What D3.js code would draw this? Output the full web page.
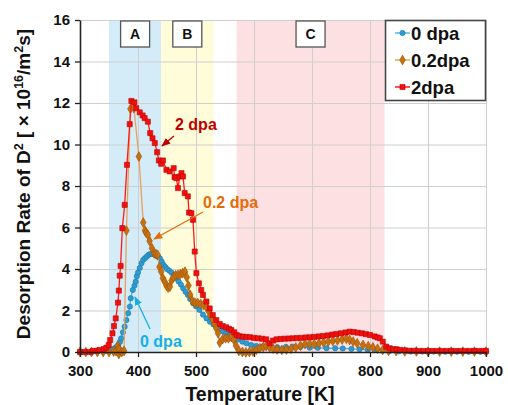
<!DOCTYPE html>
<html><head><meta charset="utf-8">
<script src="https://cdn.jsdelivr.net/npm/d3@7"></script>
<style>body{margin:0;background:#fff}svg{display:block;font-family:Arial,"Liberation Sans",sans-serif}</style>
</head><body><svg id="c" width="508" height="405"></svg>
<script>
// ---- data ----
const seriesNames = ["0 dpa", "0.2dpa", "2dpa"];
const xTicks = [300,400,500,600,700,800,900,1000];
const yTicks = [0,2,4,6,8,10,12,14,16];
const regions = [{label:"A", from:350, to:440}, {label:"B", from:440, to:530}, {label:"C", from:570, to:825}];

const t0 = [300,310,320,330,340,345,351,356,360,363,366,369,371,374,377,380,383,386,387.5,391,394,396,398,400,403,406,409,412,415,418,421,424,428,432,435,438,441,444,447,450,454,458,462,466,470,474,478,482,486,490,495,500,506,512,518,524,530,535,541,547,552,558,565,572,580,587,595,604,615,627,640,655,667,680,696,710,725,740,753,768,782,796,811,822,834,850,870,890,910,930,950,970,990,1000];
const v0 = [0,0,0,0.02,0.03,0.05,0.1,0.13,0.18,0.25,0.34,0.5,0.66,0.95,1.22,1.54,1.87,2.19,2.59,2.99,3.2,3.39,3.65,3.83,4.05,4.28,4.44,4.52,4.6,4.68,4.72,4.73,4.7,4.65,4.58,4.5,4.35,4.2,4.1,4.0,3.92,3.82,3.7,3.55,3.4,3.25,3.07,2.9,2.75,2.55,2.35,2.2,2.03,1.8,1.62,1.46,1.33,1.22,1.1,0.98,0.9,0.82,0.7,0.6,0.5,0.42,0.34,0.29,0.27,0.25,0.23,0.25,0.26,0.24,0.21,0.2,0.18,0.18,0.17,0.15,0.13,0.11,0.1,0.07,0.05,0.03,0.02,0.02,0.02,0.01,0.01,0.01,0.01,0.01];

const t02 = [300,310,320,330,340,350,358,362,365,366,367,368,372,376,380,387,393,401.5,409,412,414,417,420,424,428,431,434,437,440,443,446,449,452,455,458,461,465,469,473,477,481,484,487,490,494,498,503,508,513,518,522,525,529,532,535,538,541,546,551,556,561,565,569,574,580,586,592,598,604,610,616,621,627,633,640,648,656,664,672,680,688,696,704,712,720,728,736,744,752,759,765,771,778,788,797,805,813,822,832,845,860,880,900,920,940,960,980,1000];
const v02 = [0,0,0,0,0,0,0.02,0.05,0.3,0.15,-0.1,0.1,0,0.05,5.85,11.72,11.75,9.42,6.24,5.85,5.75,5.65,5.35,5.0,4.75,4.72,4.68,4.1,3.87,3.55,3.39,3.2,3.1,3.15,3.45,3.6,3.7,3.72,3.75,3.8,3.87,3.6,3.2,2.75,2.45,2.38,2.36,2.32,2.27,2.15,1.95,1.75,1.55,1.35,1.14,0.9,0.45,0.62,0.66,0.66,0.72,0.6,0.3,0.05,0,-0.02,0,0.03,0.1,0.18,0.24,0.28,0.22,0.16,0.12,0.1,0.12,0.16,0.22,0.3,0.38,0.4,0.38,0.42,0.46,0.5,0.53,0.56,0.6,0.64,0.58,0.5,0.42,0.34,0.28,0.23,0.16,0.1,0.06,0.04,0.03,0.03,0.02,0.02,0.02,0.02,0.02,0.02];

const t2 = [300,308,317,322,329,334,341,345.5,349.5,352,356,358.6,361.6,365.5,367,368.5,370,373,377,381,385.7,388.6,393.8,397,403,408,411.5,417,421,425,429,433,436,440,443,449,454.7,461.5,463,466,469,472,475,477.6,480.5,486,488,492,494.8,497.8,500.7,505,509,512,518,523.6,529,535,541,546,552,557,561,566,570,575,581,587,593,600,607,614,621,627,633,639,646,653,660,667,674,681,689,696,704,712,719,727,735,742,750,758,765,772,779,786,793,800,808,813,817,822,828,834,840,846,852,860,868,876,884,892,900,908,916,924,932,940,948,956,964,972,980,988,996,1000];
const v2 = [0,0,0,0.05,0.06,0.1,0.14,0.21,0.34,0.58,0.9,1.25,1.62,2.38,2.96,3.68,4.15,5.97,7.09,9.02,10.98,12.1,12.03,11.75,11.55,11.4,11.27,11.1,10.55,10.3,10.07,9.63,9.23,9.07,9.23,8.78,8.7,8.86,8.43,8.38,7.9,8.46,8.62,8.46,7.66,7.5,6.72,6.69,6.37,4.84,3.8,3.31,2.99,2.75,2.43,2.1,1.78,1.54,1.35,1.25,1.19,1.12,1.06,0.95,0.82,0.76,0.74,0.72,0.71,0.68,0.66,0.64,0.61,0.42,0.55,0.61,0.63,0.64,0.65,0.66,0.67,0.68,0.7,0.71,0.73,0.75,0.77,0.8,0.84,0.87,0.9,0.94,0.98,0.96,0.93,0.9,0.86,0.82,0.75,0.7,0.66,0.5,0.26,0.18,0.14,0.13,0.1,0.08,0.06,0.06,0.05,0.05,0.05,0.05,0.05,0.05,0.05,0.05,0.05,0.05,0.05,0.05,0.05,0.05,0.05,0.05];

// ---- chart ----
const svg = d3.select("#c");
const x = d3.scaleLinear().domain([300,1000]).range([80,486]);
const y = d3.scaleLinear().domain([0,16]).range([352,20]);
const regionColors = {A:"#d3ecf8", B:"#fefcd9", C:"#fde0e1"};

// shaded regions
svg.append("g").selectAll("rect").data(regions).join("rect")
  .attr("x", d => x(d.from)).attr("width", d => x(d.to) - x(d.from))
  .attr("y", y(16)).attr("height", y(0) - y(16))
  .attr("fill", d => regionColors[d.label]);

// grid
const grid = svg.append("g").attr("stroke", "#cfcfcf").attr("stroke-width", 1);
grid.selectAll(".gy").data(yTicks.filter(v => v > 0)).join("line")
  .attr("x1", x(300)).attr("x2", x(1000)).attr("y1", d => y(d) + 0.5).attr("y2", d => y(d) + 0.5);
grid.selectAll(".gx").data(xTicks.filter(v => v > 300)).join("line")
  .attr("y1", y(0)).attr("y2", y(16)).attr("x1", d => x(d) + 0.5).attr("x2", d => x(d) + 0.5);

// region label boxes
const rl = svg.append("g").selectAll("g").data(regions).join("g")
  .attr("transform", d => `translate(${x((d.from + d.to) / 2)},34)`);
rl.append("rect").attr("x", -14.5).attr("y", -13).attr("width", 29).attr("height", 26)
  .attr("fill", "#fff").attr("stroke", "#555").attr("stroke-width", 1.3);
rl.append("text").attr("text-anchor", "middle").attr("dy", "0.36em")
  .attr("font-size", 14).attr("font-weight", "bold").attr("fill", "#111").text(d => d.label);

// series
const series = [
  {name: seriesNames[0], t: t0, v: v0, line: "#46b8ea", fill: "#2f9bd3", stroke: "#1f78aa", shape: d3.symbolCircle, size: 22},
  {name: seriesNames[1], t: t02, v: v02, line: "#e9a15a", fill: "#c8700f", stroke: "#9a5208", shape: d3.symbolDiamond, size: 28},
  {name: seriesNames[2], t: t2, v: v2, line: "#ff1a1a", fill: "#f01010", stroke: "#c00000", shape: d3.symbolSquare, size: 26}
];
const line = d3.line().x(d => x(d[0])).y(d => y(d[1]));
series.forEach(s => {
  const pts = s.t.map((t, i) => [t, s.v[i]]);
  const g = svg.append("g");
  g.append("path").datum(pts).attr("d", line).attr("fill", "none")
    .attr("stroke", s.line).attr("stroke-width", 1.3);
  g.selectAll("path.m").data(pts).join("path").attr("class", "m")
    .attr("transform", d => `translate(${x(d[0])},${y(d[1])})`)
    .attr("d", d3.symbol().type(s.shape).size(s.size))
    .attr("fill", s.fill).attr("stroke", s.stroke).attr("stroke-width", 0.6);
});

// axes
const xAxis = svg.append("g").attr("transform", `translate(0,${y(0)})`)
  .call(d3.axisBottom(x).tickValues(xTicks).tickFormat(d3.format("d")).tickSize(5).tickSizeOuter(0));
const yAxis = svg.append("g").attr("transform", `translate(${x(300)},0)`)
  .call(d3.axisLeft(y).tickValues(yTicks).tickFormat(d3.format("d")).tickSize(5).tickSizeOuter(0));
[xAxis, yAxis].forEach(a => {
  a.select(".domain").attr("stroke", "#222").attr("stroke-width", 1.6);
  a.selectAll(".tick line").attr("stroke", "#222").attr("stroke-width", 1.3);
  a.selectAll("text").attr("font-size", 15).attr("font-weight", "bold").attr("fill", "#111")
    .attr("font-family", "Arial, 'Liberation Sans', sans-serif");
});
xAxis.selectAll("text").attr("dy", "1.05em");
yAxis.selectAll("text").attr("x", -10);

// axis titles
svg.append("text").attr("x", 260).attr("y", 401).attr("text-anchor", "middle")
  .attr("font-size", 19.5).attr("font-weight", "bold").attr("fill", "#111").text("Temperature [K]");
const yt = svg.append("text").attr("transform", "translate(30,184) rotate(-90)")
  .attr("text-anchor", "middle").attr("font-size", 19).attr("font-weight", "bold").attr("fill", "#111");
yt.append("tspan").text("Desorption Rate of D");
yt.append("tspan").attr("baseline-shift", "super").attr("font-size", 12.5).text("2");
yt.append("tspan").text("  [ × 10");
yt.append("tspan").attr("baseline-shift", "super").attr("font-size", 12.5).text("16");
yt.append("tspan").text("/m");
yt.append("tspan").attr("baseline-shift", "super").attr("font-size", 12.5).text("2");
yt.append("tspan").text("s]");

// annotations
const annots = [
  {text: "2 dpa", color: "#c00000", tx: 175, ty: 130, x1: 174, y1: 136, x2: 162, y2: 146},
  {text: "0.2 dpa", color: "#e46c0a", tx: 203, ty: 208, x1: 203, y1: 212, x2: 154, y2: 239},
  {text: "0 dpa", color: "#16aeea", tx: 140, ty: 347, x1: 150, y1: 329, x2: 135, y2: 297}
];
const defs = svg.append("defs");
annots.forEach((a, i) => {
  defs.append("marker").attr("id", "ar" + i).attr("viewBox", "0 0 10 10").attr("refX", 9).attr("refY", 5)
    .attr("markerWidth", 7).attr("markerHeight", 7).attr("orient", "auto")
    .append("path").attr("d", "M0,1 L10,5 L0,9 z").attr("fill", a.color);
  svg.append("line").attr("x1", a.x1).attr("y1", a.y1).attr("x2", a.x2).attr("y2", a.y2)
    .attr("stroke", a.color).attr("stroke-width", 1.3).attr("marker-end", `url(#ar${i})`);
  svg.append("text").attr("x", a.tx).attr("y", a.ty).attr("font-size", 16).attr("font-weight", "bold")
    .attr("fill", a.color).text(a.text);
});

// legend
const lg = svg.append("g");
lg.append("rect").attr("x", 385.5).attr("y", 20.5).attr("width", 100).attr("height", 80)
  .attr("fill", "#fff").attr("stroke", "#444").attr("stroke-width", 1.6);
series.forEach((s, i) => {
  const cy = [33, 60, 87][i];
  lg.append("line").attr("x1", 395).attr("x2", 410).attr("y1", cy).attr("y2", cy)
    .attr("stroke", s.line).attr("stroke-width", 1.5);
  lg.append("path").attr("transform", `translate(402.5,${cy})`)
    .attr("d", d3.symbol().type(s.shape).size(s.size)).attr("fill", s.fill).attr("stroke", s.stroke).attr("stroke-width", 0.6);
  lg.append("text").attr("x", 411).attr("y", cy).attr("dy", "0.36em").attr("font-size", 18.5)
    .attr("font-weight", "bold").attr("fill", "#111").text(s.name);
});
</script></body></html>
